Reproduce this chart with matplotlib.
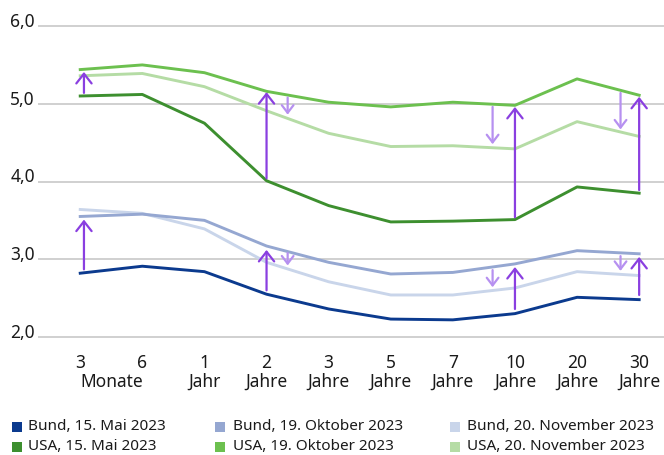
import matplotlib
matplotlib.use('Agg')
import matplotlib.pyplot as plt
from matplotlib.patches import Rectangle
from matplotlib.transforms import blended_transform_factory, offset_copy

plt.rcParams['font.family'] = ['Noto Sans', 'DejaVu Sans']

# maturities
tick_top = ['3', '6', '1', '2', '3', '5', '7', '10', '20', '30']
tick_units = ['Monate', 'Jahr', 'Jahre', 'Jahre', 'Jahre', 'Jahre', 'Jahre', 'Jahre', 'Jahre']
unit_pos = [0.5, 2, 3, 4, 5, 6, 7, 8, 9]

# yields in %
bund_mai = [2.82, 2.91, 2.84, 2.55, 2.36, 2.23, 2.22, 2.30, 2.51, 2.48]
bund_okt = [3.55, 3.58, 3.50, 3.17, 2.96, 2.81, 2.83, 2.94, 3.11, 3.07]
bund_nov = [3.64, 3.59, 3.39, 2.96, 2.71, 2.54, 2.54, 2.63, 2.84, 2.79]
usa_mai = [5.10, 5.12, 4.75, 4.01, 3.69, 3.48, 3.49, 3.51, 3.93, 3.85]
usa_okt = [5.44, 5.50, 5.40, 5.16, 5.02, 4.96, 5.02, 4.98, 5.32, 5.11]
usa_nov = [5.36, 5.39, 5.22, 4.91, 4.62, 4.45, 4.46, 4.42, 4.77, 4.58]

# change arrows: May -> October (up) and October -> November (down)
up_x = [0.06, 3, 7, 9]
up_usa_from = [5.14, 4.04, 3.54, 3.89]
up_usa_to = [5.41, 5.15, 4.96, 5.09]
up_bund_from = [2.87, 2.60, 2.36, 2.54]
up_bund_to = [3.51, 3.12, 2.90, 3.03]

down_x = [3.34, 6.64, 8.70]
down_usa_from = [5.08, 4.96, 5.14]
down_usa_to = [4.86, 4.48, 4.67]
down_bund_from = [3.08, 2.86, 3.04]
down_bund_to = [2.92, 2.64, 2.85]

series = [
    ('Bund, 15. Mai 2023', bund_mai, '#0b3a8e'),
    ('Bund, 19. Oktober 2023', bund_okt, '#95a7d1'),
    ('Bund, 20. November 2023', bund_nov, '#c9d5ea'),
    ('USA, 15. Mai 2023', usa_mai, '#3d8f2f'),
    ('USA, 19. Oktober 2023', usa_okt, '#6cc04f'),
    ('USA, 20. November 2023', usa_nov, '#b5dca5'),
]
draw_order = [2, 1, 0, 5, 4, 3]

up_color = '#8a3fe0'
down_color = '#b690f0'
text_color = '#1a1a1a'

fig = plt.figure(figsize=(6.64, 4.55), dpi=100)
ax = fig.add_axes([38 / 664, 1 - 338.5 / 455, 1 - 38 / 664, (338.5 - 24.5) / 455])

x = list(range(len(tick_top)))
for i in draw_order:
    label, vals, col = series[i]
    ax.plot(x, vals, color=col, lw=2.1, solid_joinstyle='round', zorder=3)

def arrow(xp, y0, y1, col, hl, hw):
    ax.annotate('', xy=(xp, y1), xytext=(xp, y0),
                arrowprops=dict(arrowstyle=f'->,head_length={hl},head_width={hw}',
                                color=col, lw=1.6, shrinkA=0, shrinkB=0,
                                mutation_scale=10),
                zorder=4)

for xp, a, b in zip(up_x, up_usa_from, up_usa_to):
    arrow(xp, a, b, up_color, 0.7, 0.55)
for xp, a, b in zip(up_x, up_bund_from, up_bund_to):
    arrow(xp, a, b, up_color, 0.7, 0.55)
for xp, a, b in zip(down_x, down_usa_from, down_usa_to):
    arrow(xp, a, b, down_color, 0.55, 0.42)
for xp, a, b in zip(down_x, down_bund_from, down_bund_to):
    arrow(xp, a, b, down_color, 0.55, 0.42)

ax.set_xlim(-0.68, 9.40)
ax.set_ylim(1.98, 6.02)
for s in ax.spines.values():
    s.set_visible(False)
ax.set_xticks([])
ax.set_yticks([])
for v in [2, 3, 4, 5, 6]:
    ax.axhline(v, color='#c3c3c3', lw=1.1, zorder=1)
    ax.text(-0.73, v, f'{v},0', ha='right', va='center', fontsize=12.5, color=text_color,
            transform=offset_copy(ax.transData, fig=fig, x=0, y=4, units='dots'))

bt = blended_transform_factory(ax.transData, fig.transFigure)
for xi, t in zip(x, tick_top):
    ax.text(xi, 1 - 363 / 455, t, ha='center', va='center', fontsize=12.5, color=text_color, transform=bt)
for xp, t in zip(unit_pos, tick_units):
    ax.text(xp, 1 - 382 / 455, t, ha='center', va='center', fontsize=12.5, color=text_color, transform=bt)

# legend, three columns by two rows
square_x = [12, 215, 450]
label_x = [28, 232.5, 467]
row_y = [427, 447]
for i, (label, vals, col) in enumerate(series):
    r, c = divmod(i, 3)
    fig.patches.append(Rectangle((square_x[c] / 664, 1 - (row_y[r] + 5) / 455), 10 / 664, 10 / 455,
                                 transform=fig.transFigure, color=col, lw=0))
    fig.text(label_x[c] / 664, 1 - row_y[r] / 455, label, ha='left', va='center',
             fontsize=11, color=text_color)

fig.savefig('out.png', dpi=100)
